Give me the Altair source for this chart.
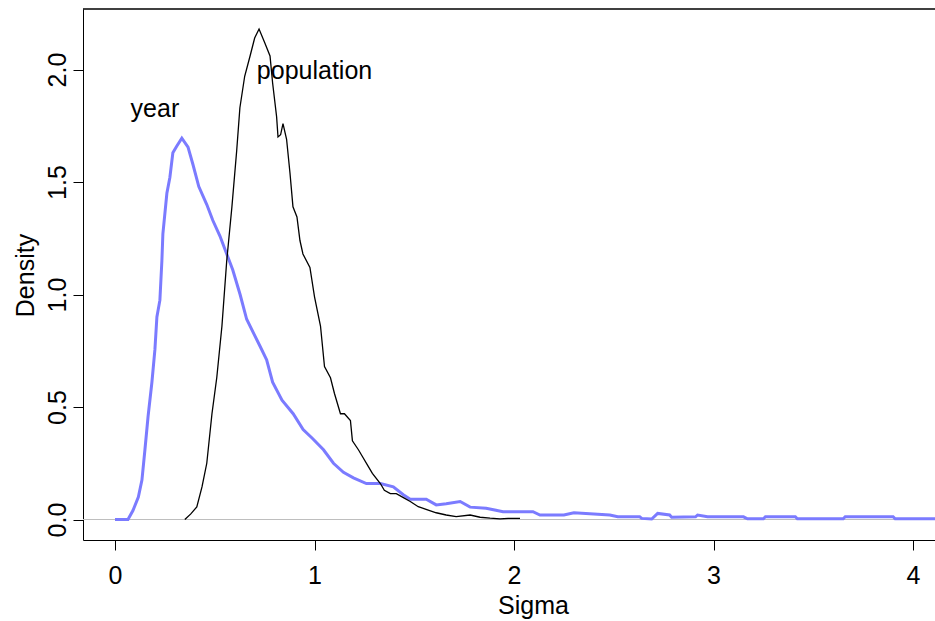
import altair as alt
import pandas as pd

# population curve (black)
pop_x = [0.35, 0.38, 0.41, 0.436, 0.46, 0.486, 0.51, 0.536, 0.56, 0.586,
         0.61, 0.626, 0.65, 0.677, 0.70, 0.722, 0.75, 0.777, 0.79, 0.81,
         0.817, 0.83, 0.842, 0.86, 0.877, 0.892, 0.912, 0.927, 0.942, 0.977,
         1.0, 1.03, 1.05, 1.08, 1.10, 1.13, 1.15, 1.18, 1.19, 1.22,
         1.24, 1.27, 1.29, 1.33, 1.35, 1.38, 1.41, 1.45, 1.48, 1.52,
         1.57, 1.61, 1.66, 1.71, 1.78, 1.83, 1.88, 1.93, 1.97, 2.03]
pop_y = [0.0, 0.025, 0.056, 0.145, 0.25, 0.47, 0.63, 0.86, 1.15, 1.39,
         1.64, 1.83, 1.97, 2.06, 2.14, 2.18, 2.12, 2.06, 1.94, 1.79,
         1.70, 1.71, 1.76, 1.69, 1.54, 1.39, 1.345, 1.24, 1.18, 1.12,
         0.99, 0.86, 0.68, 0.63, 0.56, 0.47, 0.47, 0.44, 0.35, 0.31,
         0.28, 0.235, 0.205, 0.16, 0.13, 0.115, 0.115, 0.095, 0.08, 0.057,
         0.042, 0.03, 0.02, 0.013, 0.02, 0.01, 0.006, 0.003, 0.005, 0.005]

# year curve (blue)
yr_x = [0.0, 0.065, 0.09, 0.117, 0.135, 0.15, 0.166, 0.185, 0.20, 0.21,
        0.225, 0.235, 0.24, 0.26, 0.275, 0.29, 0.31, 0.335, 0.366, 0.39,
        0.42, 0.46, 0.49, 0.526, 0.56, 0.59, 0.627, 0.66, 0.727, 0.76,
        0.79, 0.837, 0.893, 0.943, 0.99, 1.045, 1.095, 1.145, 1.195, 1.26,
        1.33, 1.395, 1.445, 1.48, 1.56, 1.61, 1.66, 1.73, 1.78, 1.86,
        1.945, 2.095, 2.13, 2.25, 2.30, 2.48, 2.52, 2.63, 2.64, 2.69,
        2.72, 2.78, 2.79, 2.91, 2.92, 2.97, 3.15, 3.17, 3.25, 3.26,
        3.41, 3.42, 3.65, 3.66, 3.90, 3.91, 4.2]
yr_y = [0.0, 0.0, 0.04, 0.10, 0.175, 0.31, 0.46, 0.61, 0.755, 0.90,
        0.975, 1.15, 1.27, 1.45, 1.52, 1.63, 1.66, 1.695, 1.655, 1.58,
        1.48, 1.40, 1.33, 1.26, 1.18, 1.11, 1.0, 0.89, 0.77, 0.71,
        0.61, 0.53, 0.47, 0.40, 0.36, 0.31, 0.25, 0.21, 0.185, 0.16,
        0.16, 0.145, 0.11, 0.09, 0.09, 0.065, 0.07, 0.08, 0.055, 0.05,
        0.035, 0.035, 0.02, 0.02, 0.03, 0.02, 0.012, 0.012, 0.005, 0.002,
        0.027, 0.02, 0.01, 0.012, 0.02, 0.012, 0.012, 0.003, 0.003, 0.012,
        0.012, 0.003, 0.003, 0.012, 0.012, 0.003, 0.003]

label_text = ["population", "year"]
label_x = [1.0, 0.2]
label_y = [2.0, 1.83]

x_ticks = [0, 1, 2, 3, 4]
y_ticks = [0.0, 0.5, 1.0, 1.5, 2.0]
x_domain = [-0.1604, 4.110]
y_domain = [-0.0911, 2.269]

FONT = "Liberation Sans"
FS = 25
W, H = 852, 531

pop_df = pd.DataFrame({"x": pop_x, "y": pop_y, "i": range(len(pop_x))})
yr_df = pd.DataFrame({"x": yr_x, "y": yr_y, "i": range(len(yr_x))})
lab_df = pd.DataFrame({"t": label_text, "x": label_x, "y": label_y})
zero_df = pd.DataFrame({"y": [0.0]})

xs = alt.Scale(domain=x_domain, nice=False, zero=False)
ys = alt.Scale(domain=y_domain, nice=False, zero=False)

x_axis = alt.Axis(values=x_ticks, format="d", grid=False, tickSize=10,
                  labelPadding=13, labelFontSize=FS, labelFont=FONT,
                  labelColor="#000", domainColor="#000", tickColor="#000",
                  labelBaseline="top",
                  title="Sigma", titleFont=FONT, titleFontSize=FS,
                  titleFontWeight="normal", titleColor="#000",
                  titleX=450, titleY=73, titleAlign="center",
                  titleBaseline="alphabetic")
y_axis = alt.Axis(values=y_ticks, format=".1f", grid=False, tickSize=10,
                  labelPadding=8, labelFontSize=FS, labelFont=FONT,
                  labelColor="#000", domainColor="#000", tickColor="#000",
                  labelAngle=270, labelAlign="center",
                  labelBaseline="alphabetic",
                  title="Density", titleFont=FONT, titleFontSize=FS,
                  titleFontWeight="normal", titleColor="#000",
                  titleAngle=270, titleX=-50, titleY=266, titleAlign="center",
                  titleBaseline="alphabetic")

zero = alt.Chart(zero_df).mark_rule(color="#bebebe", strokeWidth=1.2).encode(
    y=alt.Y("y:Q", scale=ys, axis=y_axis)
)

year_line = alt.Chart(yr_df).mark_line(color="#7b7bff", strokeWidth=3, clip=True).encode(
    x=alt.X("x:Q", scale=xs, axis=x_axis),
    y=alt.Y("y:Q", scale=ys, axis=y_axis),
    order="i:Q",
)

pop_line = alt.Chart(pop_df).mark_line(color="#000", strokeWidth=1.3, clip=True).encode(
    x=alt.X("x:Q", scale=xs, axis=x_axis),
    y=alt.Y("y:Q", scale=ys, axis=y_axis),
    order="i:Q",
)

labels = alt.Chart(lab_df).mark_text(font=FONT, fontSize=FS, color="#000",
                                     align="center", baseline="alphabetic",
                                     dy=9).encode(
    x=alt.X("x:Q", scale=xs, axis=x_axis),
    y=alt.Y("y:Q", scale=ys, axis=y_axis),
    text="t:N",
)

top_border = alt.Chart(zero_df).mark_rule(color="#000", strokeWidth=1.5).encode(
    x=alt.value(0), x2=alt.value(W + 5), y=alt.value(0)
)

chart = alt.layer(zero, year_line, pop_line, labels, top_border).properties(
    width=W, height=H,
    autosize=alt.AutoSizeParams(type="none"),
    padding={"left": 83, "top": 9, "right": 0, "bottom": 81},
    background="white",
).configure_view(stroke=None)

chart.save("out.html", embed_options={"renderer": "svg", "actions": False})
